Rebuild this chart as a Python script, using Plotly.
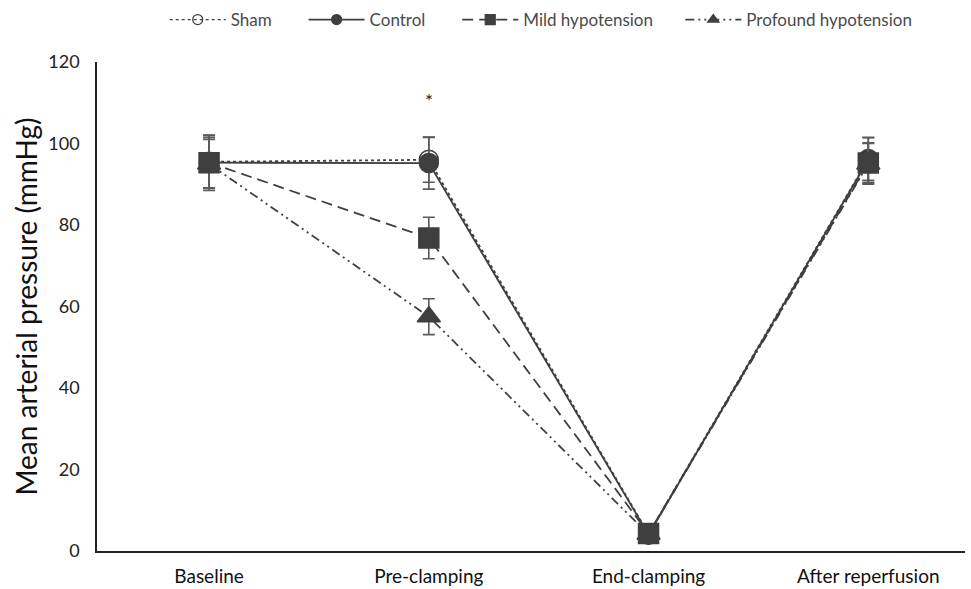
import plotly.graph_objects as go

categories = ["Baseline", "Pre-clamping", "End-clamping", "After reperfusion"]
x_idx = [0, 1, 2, 3]

sham = [95.5, 96.0, 4.2, 96.2]
sham_err = [6.5, 5.5, 0.8, 5.2]
control = [95.3, 95.2, 4.0, 96.0]
control_err = [6.8, 6.4, 0.8, 5.5]
mild = [95.3, 76.8, 4.3, 95.2]
mild_err = [6.2, 5.1, 0.8, 5.0]
profound = [95.0, 57.5, 4.1, 95.0]
profound_err = [6.0, 4.4, 0.8, 5.0]

asterisk_x = 1
asterisk_y = 110.5

COL = "#3f3f3f"
ERRC = "#5a5a5a"
FONT = "Lato, 'Open Sans', sans-serif"

series = [
    # name, values, errors, dash, symbol, size, legend id, legend x
    ("Sham", sham, sham_err, "dot", "circle-open", 19, "legend", 0.078),
    ("Control", control, control_err, "solid", "circle", 19, "legend2", 0.238),
    ("Profound hypotension", profound, profound_err, "9px,4px,2px,4px,2px,4px", "triangle-up", 20, "legend4", 0.672),
    ("Mild hypotension", mild, mild_err, "11px,6px", "square", 20, "legend3", 0.415),
]

fig = go.Figure()

for name, y, err, dash, symbol, size, lg, lx in series:
    fig.add_trace(go.Scatter(
        x=x_idx, y=y, name=name, mode="lines+markers", showlegend=False,
        line=dict(color=COL, width=1.8, dash=dash),
        marker=dict(symbol=symbol, size=size, color=COL,
                    line=dict(color=COL, width=1.5)),
        error_y=dict(type="data", array=err, visible=True, color=ERRC,
                     thickness=1.6, width=6),
    ))

# legend-only entries (smaller symbols, as in the reference legend)
for name, y, err, dash, symbol, size, lg, lx in series:
    fig.add_trace(go.Scatter(
        x=[None], y=[None], name=name, mode="lines+markers", legend=lg,
        line=dict(color=COL, width=1.8 if dash != "dot" else 1.2, dash=dash),
        marker=dict(symbol=symbol, size=10, color=COL,
                    line=dict(color=COL, width=1.2)),
    ))

fig.add_annotation(x=asterisk_x, y=asterisk_y, text="*", showarrow=False,
                   font=dict(size=19, color="#222"))

legend_common = dict(orientation="h", xanchor="left", yref="container",
                     y=0.966, yanchor="middle",
                     font=dict(size=17, color="#4a4a4a", family=FONT),
                     itemwidth=56, bgcolor="rgba(0,0,0,0)", borderwidth=0)

layout_legends = {}
for name, y, err, dash, symbol, size, lg, lx in series:
    layout_legends[lg] = dict(legend_common, x=lx)

fig.update_layout(
    width=971, height=589,
    margin=dict(l=97, r=6, t=62, b=38, autoexpand=False),
    plot_bgcolor="white", paper_bgcolor="white",
    font=dict(family=FONT, color="#222"),
    showlegend=True,
    xaxis=dict(range=[-0.51, 3.44], tickvals=x_idx, ticktext=categories,
               showgrid=False, zeroline=False, showline=True, automargin=False,
               linecolor="#222", linewidth=2, ticks="outside", ticklen=7,
               tickcolor="rgba(0,0,0,0)",
               tickfont=dict(size=19, color="#111")),
    yaxis=dict(range=[0, 120], tickvals=[0, 20, 40, 60, 80, 100, 120],
               showgrid=False, zeroline=False, showline=True, automargin=False,
               linecolor="#222", linewidth=1.5, ticks="outside", ticklen=12,
               tickcolor="rgba(0,0,0,0)",
               tickfont=dict(size=18, color="#222"),
               title=dict(text="Mean arterial pressure (mmHg)",
                          font=dict(size=28, color="#111"), standoff=3)),
    **layout_legends,
)

fig.write_html("out.html")
